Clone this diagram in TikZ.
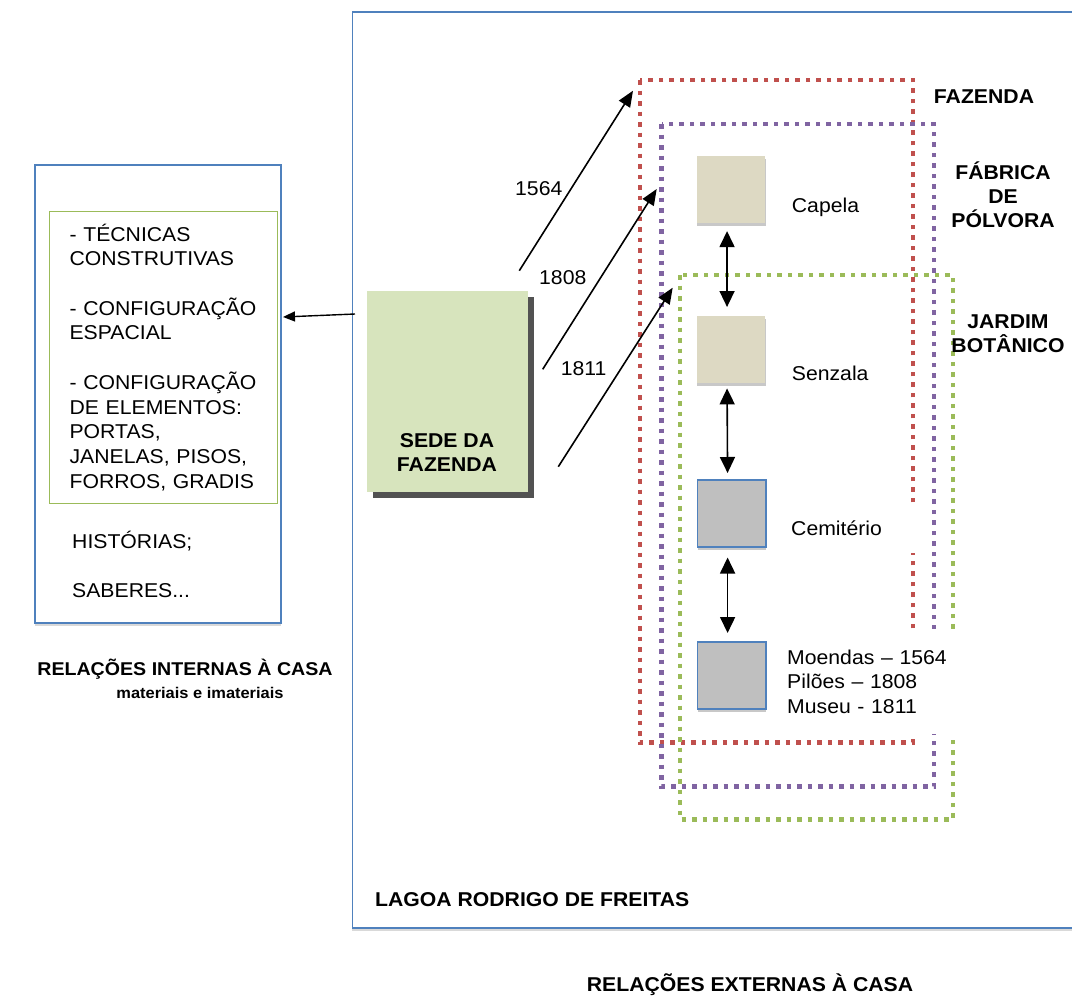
\documentclass[tikz,border=0pt]{standalone}
\usepackage{fontspec}
\setmainfont{Liberation Sans}[FakeStretch=1.06]
\usetikzlibrary{arrows.meta,shadows}
\definecolor{azulborda}{HTML}{4F81BD}
\definecolor{verdeborda}{HTML}{9BBB59}
\definecolor{vermelho}{HTML}{C0504D}
\definecolor{roxo}{HTML}{8064A2}
\definecolor{verdesede}{HTML}{D7E4BD}
\definecolor{bege}{HTML}{DDD9C3}
\definecolor{cinza}{HTML}{BFBFBF}
\tikzset{
  texto/.style={font=\fontsize{20}{24.7}\selectfont, inner sep=0pt},
  negrito/.style={font=\fontsize{20}{24.4}\selectfont\bfseries, inner sep=0pt},
  pontilhado/.style={line width=4.5pt, dash pattern=on 4.5pt off 6pt},
  moldura/.style={draw=azulborda, line width=1.5pt, fill=white, anchor=north west, inner sep=0pt,
    drop shadow={shadow xshift=0pt, shadow yshift=-3pt, opacity=.15, fill=black}},
  predio/.style={rectangle, anchor=north west, minimum width=68.3pt, minimum height=67pt, inner sep=0pt,
    drop shadow={shadow xshift=0.5pt, shadow yshift=-3pt, opacity=.3, fill=black!70}},
  seta/.style={-{Triangle[length=16pt,width=13pt]}, line width=1.6pt},
  setinha/.style={-{Triangle[length=12pt,width=10pt]}, line width=1.4pt},
  dupla/.style={{Triangle[length=16pt,width=15pt]}-{Triangle[length=16pt,width=15pt]}, line width=1.6pt},
}
\begin{document}
\begin{tikzpicture}[x=1pt,y=-1pt]
  \useasboundingbox (0,0) rectangle (1072,996);

  \node[moldura, minimum width=740pt, minimum height=916pt] (lagoa) at (351.7,11) {};
  \node[moldura, minimum width=246pt, minimum height=458pt] (internas) at (34,164) {};

  \node[texto, draw=verdeborda, line width=1.2pt, anchor=north west, minimum height=292pt,
        text width=188pt, inner xsep=20pt, align=left] (elementos) at (49,210.7)
    {-~TÉCNICAS\\CONSTRUTIVAS\\[24.7pt]-~CONFIGURAÇÃO\\ESPACIAL\\[24.7pt]-~CONFIGURAÇÃO\\DE~ELEMENTOS:\\PORTAS,\\JANELAS,~PISOS,\\FORROS,~GRADIS};
  \node[texto, anchor=base west] (historias) at (72,548) {HISTÓRIAS;};
  \node[texto, anchor=base west] (saberes) at (72,597.7) {SABERES...};
  \node[negrito, font=\fontsize{18.5}{22}\selectfont\bfseries, anchor=base] (internastit) at (185,675) {RELAÇÕES INTERNAS À CASA};
  \node[negrito, font=\fontsize{15.5}{18}\selectfont\bfseries, anchor=base] (materiaistit) at (200,698) {materiais e imateriais};

  \node[fill=verdesede, anchor=north west, inner sep=0pt, minimum width=161pt, minimum height=200.7pt,
        drop shadow={shadow xshift=6pt, shadow yshift=-6pt, fill=black!75, opacity=.9}] (sede) at (366.7,291) {};
  \node[negrito, anchor=south, align=center] (sedetexto) at (447,471.7) {SEDE DA\\FAZENDA};

  \coordinate (saida) at (355,314);
  \coordinate (chegada) at (283,317);
  \draw[setinha] (saida) -- (chegada);

  \draw[pontilhado, vermelho] (640,80) rectangle (913,742.7);
  \draw[pontilhado, roxo] (661.7,124) rectangle (934,786.7);
  \draw[pontilhado, verdeborda] (680,275) rectangle (953,819.3);

  \node[predio, fill=bege] (capela) at (696.7,156) {};
  \node[predio, fill=bege] (senzala) at (696.7,316) {};
  \node[predio, fill=cinza, draw=azulborda, line width=1.5pt] (cemiterio) at (696.7,479) {};
  \node[predio, fill=cinza, draw=azulborda, line width=1.5pt] (moendas) at (696.7,641) {};

  \node[texto, anchor=base west] (capelatexto) at (791.7,212.7) {Capela};
  \node[texto, anchor=base west] (senzalatexto) at (791.7,380) {Senzala};
  \node[texto, fill=white, anchor=north west, text width=120pt, inner xsep=7pt, minimum height=50pt,
        align=left] (cemiteriotexto) at (784,503) {Cemitério};
  \node[texto, fill=white, anchor=north west, text width=165pt, inner xsep=7pt, minimum height=105pt,
        align=left] (moendastexto) at (780,629) {Moendas – 1564\\Pilões – 1808\\Museu - 1811};

  \draw[dupla, shorten <=7.7pt, shorten >=9pt] ([xshift=-4pt]capela.south) -- ([xshift=-4pt]senzala.north);
  \draw[dupla, shorten <=5pt, shorten >=6pt] ([xshift=-4pt]senzala.south) -- ([xshift=-4pt]cemiterio.north);
  \draw[dupla, shorten <=10pt, shorten >=8pt] ([xshift=-4pt]cemiterio.south) -- ([xshift=-4pt]moendas.north);

  \coordinate (inicio1564) at (519.3,270.7);
  \coordinate (fim1564) at (633,90.7);
  \coordinate (inicio1808) at (542.7,369.3);
  \coordinate (fim1808) at (656.7,189);
  \coordinate (inicio1811) at (558.3,466.7);
  \coordinate (fim1811) at (672.7,287.7);
  \draw[seta] (inicio1564) -- (fim1564);
  \draw[seta] (inicio1808) -- (fim1808);
  \draw[seta] (inicio1811) -- (fim1811);
  \node[texto, anchor=base west] (ano1564) at (515,195) {1564};
  \node[texto, anchor=base west] (ano1808) at (539,284) {1808};
  \node[texto, anchor=base west] (ano1811) at (560.7,375) {1811};

  \node[negrito, anchor=base] (fazendatit) at (984,103) {FAZENDA};
  \node[negrito, anchor=south, align=center] (polvoratit) at (1003,228.3) {FÁBRICA\\DE\\PÓLVORA};
  \node[negrito, anchor=south, align=center] (jardimtit) at (1008,353.3) {JARDIM\\BOTÂNICO};

  \node[negrito, anchor=base west] (lagoatit) at (375,906.7) {LAGOA RODRIGO DE FREITAS};
  \node[negrito, anchor=base] (externastit) at (750,991) {RELAÇÕES EXTERNAS À CASA};
\end{tikzpicture}
\end{document}
